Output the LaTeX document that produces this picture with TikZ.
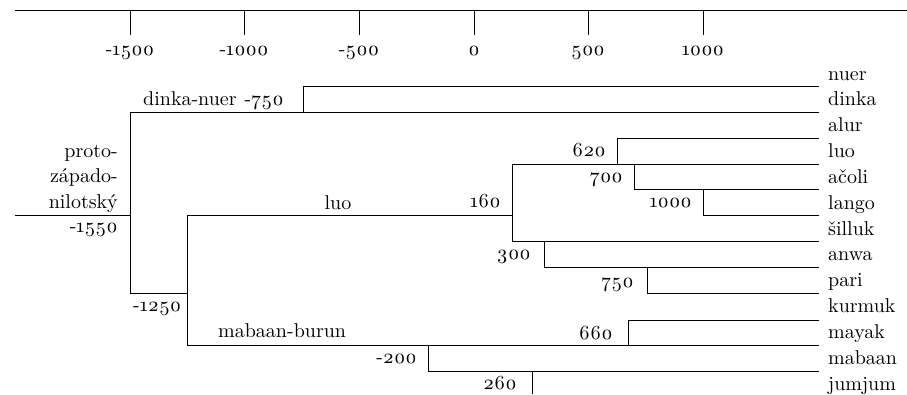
\documentclass[tikz,border=0pt]{standalone}
\usepackage{fontspec}
\setmainfont{lmroman10-regular}[Extension=.otf, Numbers=OldStyle]
\begin{document}
\begin{tikzpicture}[x=1pt,y=-1pt,
  ln/.style={line width=0.9pt, line cap=rect},
  lbl/.style={inner sep=0pt, font=\fontsize{20}{22}\selectfont},
  leaf/.style={lbl, anchor=base west},
  num/.style={lbl, anchor=base east},
  axlab/.style={lbl, anchor=base}]
\useasboundingbox (0,0) rectangle (907,394);
% axis
\coordinate (axL) at (15,10);
\coordinate (axR) at (907,10);
\draw[ln, line cap=butt] (axL) -- (axR);
\foreach \v/\x [count=\i] in {-1500/130,-1000/244,-500/359,0/474,500/588,1000/703}{
  \coordinate (t\i) at (\x,10);
  \coordinate (tb\i) at (\x,35);
  \draw[ln, line cap=butt] (t\i) -- (tb\i);
  \node[axlab] (tl\i) at (\x,55) {\v};
}
% tree coordinates
\coordinate (root0) at (15,215);
\coordinate (root) at (130,215);
\coordinate (rootT) at (130,112);
\coordinate (rootB) at (130,293);
\coordinate (dnE) at (819,112);
\coordinate (n750) at (303,112);
\coordinate (n750T) at (303,86);
\coordinate (n750E) at (819,86);
\coordinate (m1250) at (187,293);
\coordinate (m1250T) at (187,215);
\coordinate (m1250B) at (187,345);
\coordinate (n160) at (512,215);
\coordinate (n160T) at (512,164);
\coordinate (n160B) at (512,241);
\coordinate (n160TE) at (819,164);
\coordinate (n160BE) at (819,241);
\coordinate (n620) at (617,164);
\coordinate (n620T) at (617,138);
\coordinate (n620E) at (819,138);
\coordinate (n700) at (634,164);
\coordinate (n700B) at (634,189);
\coordinate (n700E) at (819,189);
\coordinate (n1000) at (703,189);
\coordinate (n1000B) at (703,215);
\coordinate (n1000E) at (819,215);
\coordinate (n300) at (544,241);
\coordinate (n300B) at (544,267);
\coordinate (n300E) at (819,267);
\coordinate (n750b) at (647,267);
\coordinate (n750bB) at (647,293);
\coordinate (n750bE) at (819,293);
\coordinate (mbE) at (819,345);
\coordinate (n660) at (628,345);
\coordinate (n660T) at (628,320);
\coordinate (n660E) at (819,320);
\coordinate (n200) at (428,345);
\coordinate (n200B) at (428,371);
\coordinate (n200E) at (819,371);
\coordinate (n260) at (532,371);
\coordinate (n260B) at (532,394);
% tree lines
\draw[ln] (root0) -- (root);
\draw[ln] (rootT) -- (rootB);
\draw[ln] (rootT) -- (dnE);
\draw[ln] (n750) -- (n750T) -- (n750E);
\draw[ln] (rootB) -- (m1250);
\draw[ln] (m1250T) -- (m1250B);
\draw[ln] (m1250T) -- (n160);
\draw[ln] (n160T) -- (n160B);
\draw[ln] (n160T) -- (n160TE);
\draw[ln] (n620) -- (n620T) -- (n620E);
\draw[ln] (n700) -- (n700B) -- (n700E);
\draw[ln] (n1000) -- (n1000B) -- (n1000E);
\draw[ln] (n160B) -- (n160BE);
\draw[ln] (n300) -- (n300B) -- (n300E);
\draw[ln] (n750b) -- (n750bB) -- (n750bE);
\draw[ln] (m1250B) -- (mbE);
\draw[ln] (n660) -- (n660T) -- (n660E);
\draw[ln] (n200) -- (n200B) -- (n200E);
\draw[ln, line cap=butt] (n260) -- (n260B);
% leaves
\foreach \t [count=\k from 0] in {nuer,dinka,alur,luo,ačoli,lango,šilluk,anwa,pari,kurmuk,mayak,mabaan,jumjum}{
  \node[leaf] (leaf\k) at (828,{80+25.85*\k}) {\t};
}
% internal labels
\node[lbl, anchor=base west] (dn) at (143,105) {dinka-nuer};
\node[num] (l750) at (284,105) {-750};
\node[num] (proto1) at (118,157) {proto-};
\node[num] (proto2) at (118,182) {západo-};
\node[num] (proto3) at (118,208) {nilotský};
\node[num] (l1550) at (118,232) {-1550};
\node[lbl, anchor=base] (luo) at (338,209) {luo};
\node[num] (l160) at (501,207) {160};
\node[num] (l620) at (606,156) {620};
\node[num] (l700) at (623,182) {700};
\node[num] (l1000) at (692,207) {1000};
\node[num] (l300) at (531,259) {300};
\node[num] (l750b) at (634,287) {750};
\node[lbl, anchor=base west] (l1250) at (133,311) {-1250};
\node[lbl, anchor=base west] (mb) at (218,337) {mabaan-burun};
\node[num] (l660) at (613,339) {660};
\node[num] (l200) at (417,363) {-200};
\node[num] (l260) at (517,389) {260};
\end{tikzpicture}
\end{document}
